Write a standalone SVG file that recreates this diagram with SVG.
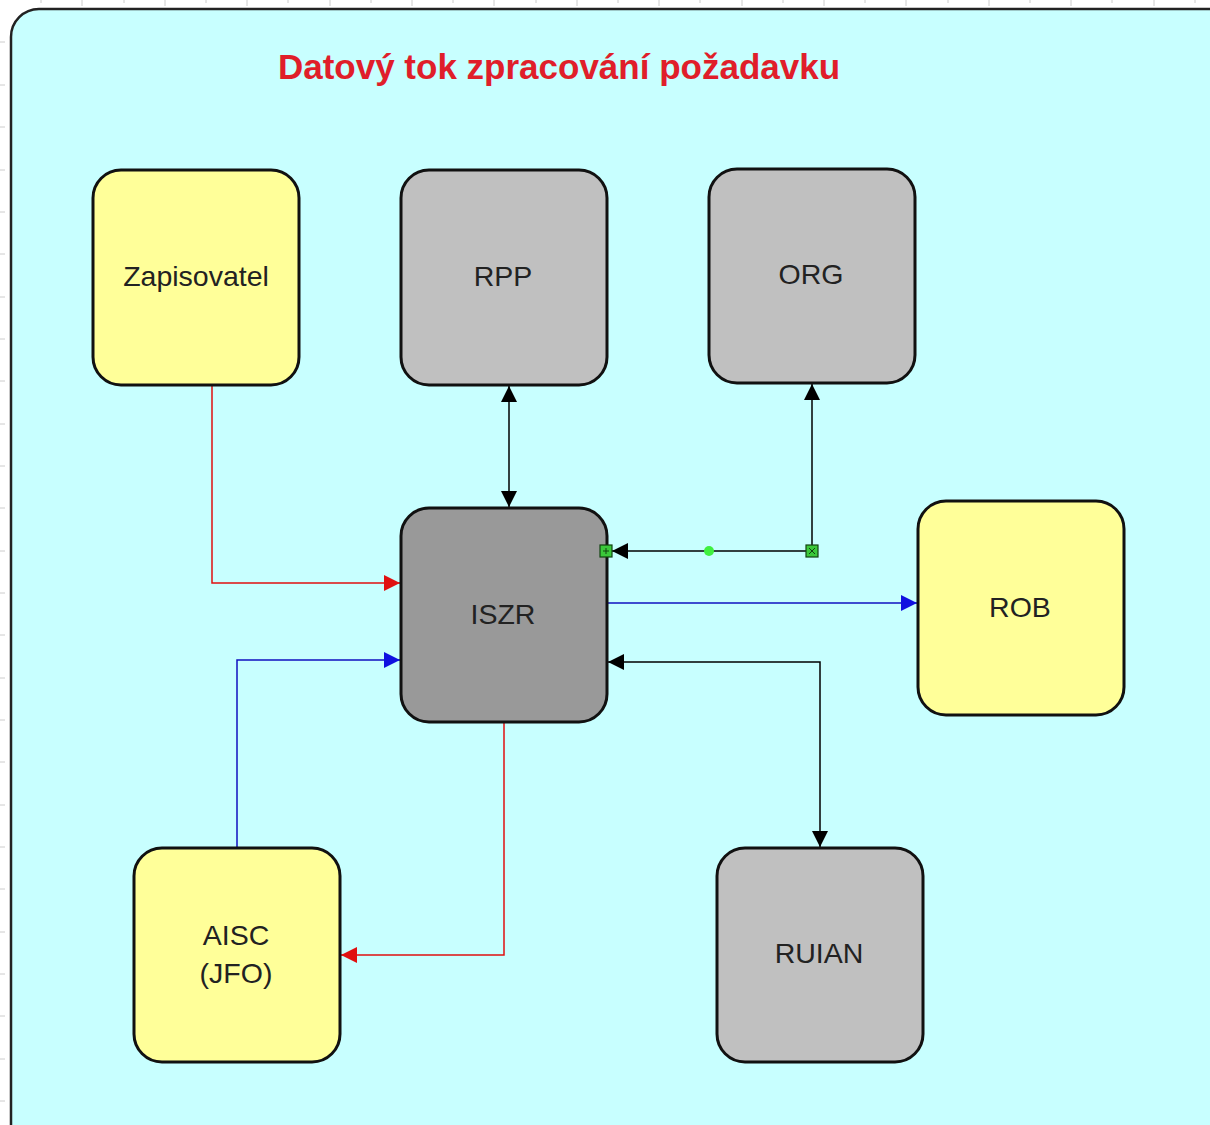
<svg xmlns="http://www.w3.org/2000/svg" width="1210" height="1125" viewBox="0 0 1210 1125">
<defs>
<style>
.node rect{stroke:#111;stroke-width:3}
.yel{fill:#FFFF99}
.gry{fill:#C0C0C0}
.dk{fill:#999999}
.lbl{font-family:"Liberation Sans",Arial,sans-serif;font-size:28.5px;fill:#222;text-anchor:middle}
.title{font-family:"Liberation Sans",Arial,sans-serif;font-size:35px;font-weight:bold;fill:#E01E2A;text-anchor:middle}
.c{fill:none;stroke-width:1.5}
.tick{stroke:#ccc;stroke-width:1}
</style>
<marker id="ar" viewBox="0 0 10 10" refX="10" refY="5" markerWidth="22" markerHeight="16" markerUnits="userSpaceOnUse" orient="auto"><path d="M0,0L10,5L0,10z" fill="#E01010"/></marker>
<marker id="ab" viewBox="0 0 10 10" refX="10" refY="5" markerWidth="22" markerHeight="16" markerUnits="userSpaceOnUse" orient="auto"><path d="M0,0L10,5L0,10z" fill="#1010E0"/></marker>
<marker id="ak" viewBox="0 0 10 10" refX="10" refY="5" markerWidth="20" markerHeight="16" markerUnits="userSpaceOnUse" orient="auto-start-reverse"><path d="M0,0L10,5L0,10z" fill="#000"/></marker>
</defs>
<rect width="1210" height="1125" fill="#fff"/>
<g id="ticks" class="tick">
<path d="M41,0v3M82,0v6M124,0v3M165,0v6M206,0v3M247,0v6M288,0v3M330,0v6M371,0v3M412,0v6M453,0v3M494,0v6M536,0v3M577,0v6M618,0v3M659,0v6M700,0v3M742,0v6M783,0v3M824,0v6M865,0v3M906,0v6M948,0v3M989,0v6M1030,0v3M1071,0v6M1112,0v3M1154,0v6M1195,0v3"/>
<path d="M0,42h5M0,85h5M0,127h5M0,170h5M0,212h5M0,254h5M0,297h5M0,339h5M0,381h5M0,424h5M0,466h5M0,508h5M0,551h5M0,593h5M0,635h5M0,678h5M0,720h5M0,762h5M0,805h5M0,847h5M0,889h5M0,932h5M0,974h5M0,1016h5M0,1059h5M0,1101h5"/>
</g>
<rect id="container" x="11" y="9" width="1230" height="1150" rx="28" fill="#C8FFFF" stroke="#222" stroke-width="2.5"/>
<text class="title" x="559" y="79">Datový tok zpracování požadavku</text>
<g id="connectors">
<path class="c" stroke="#E01010" d="M212,385V583H400" marker-end="url(#ar)"/>
<path class="c" stroke="#1010C0" d="M237,848V660H400" marker-end="url(#ab)"/>
<path class="c" stroke="#1010C0" d="M608,603H917" marker-end="url(#ab)"/>
<path class="c" stroke="#E01010" d="M504,722V955H341" marker-end="url(#ar)"/>
<path class="c" stroke="#000" d="M509,386V507" marker-start="url(#ak)" marker-end="url(#ak)"/>
<path class="c" stroke="#000" d="M812,551V384" marker-end="url(#ak)"/>
<path class="c" stroke="#000" d="M812,551H612" marker-end="url(#ak)"/>
<path class="c" stroke="#000" d="M608,662H820V847" marker-start="url(#ak)" marker-end="url(#ak)"/>
</g>
<g id="zapisovatel" class="node"><rect class="yel" x="93" y="170" width="206" height="215" rx="28"/><text class="lbl" x="196" y="286">Zapisovatel</text></g>
<g id="rpp" class="node"><rect class="gry" x="401" y="170" width="206" height="215" rx="28"/><text class="lbl" x="503" y="286">RPP</text></g>
<g id="org" class="node"><rect class="gry" x="709" y="169" width="206" height="214" rx="28"/><text class="lbl" x="811" y="284">ORG</text></g>
<g id="iszr" class="node"><rect class="dk" x="401" y="508" width="206" height="214" rx="28"/><text class="lbl" x="503" y="624">ISZR</text></g>
<g id="rob" class="node"><rect class="yel" x="918" y="501" width="206" height="214" rx="28"/><text class="lbl" x="1020" y="617">ROB</text></g>
<g id="aisc" class="node"><rect class="yel" x="134" y="848" width="206" height="214" rx="28"/><text class="lbl" x="236" y="945">AISC</text><text class="lbl" x="236" y="983">(JFO)</text></g>
<g id="ruian" class="node"><rect class="gry" x="717" y="848" width="206" height="214" rx="28"/><text class="lbl" x="819" y="963">RUIAN</text></g>
<g id="handles">
<rect x="600" y="545" width="12" height="12" fill="#3AC83A" stroke="#114411" stroke-width="1.2"/>
<path d="M603,551h6M606,548v6" stroke="#114411" stroke-width="1"/>
<rect x="806" y="545" width="12" height="12" fill="#3AC83A" stroke="#114411" stroke-width="1.2"/>
<path d="M809,548l6,6M815,548l-6,6" stroke="#114411" stroke-width="1"/>
<circle cx="709" cy="551" r="5" fill="#40F040"/>
</g>
</svg>
